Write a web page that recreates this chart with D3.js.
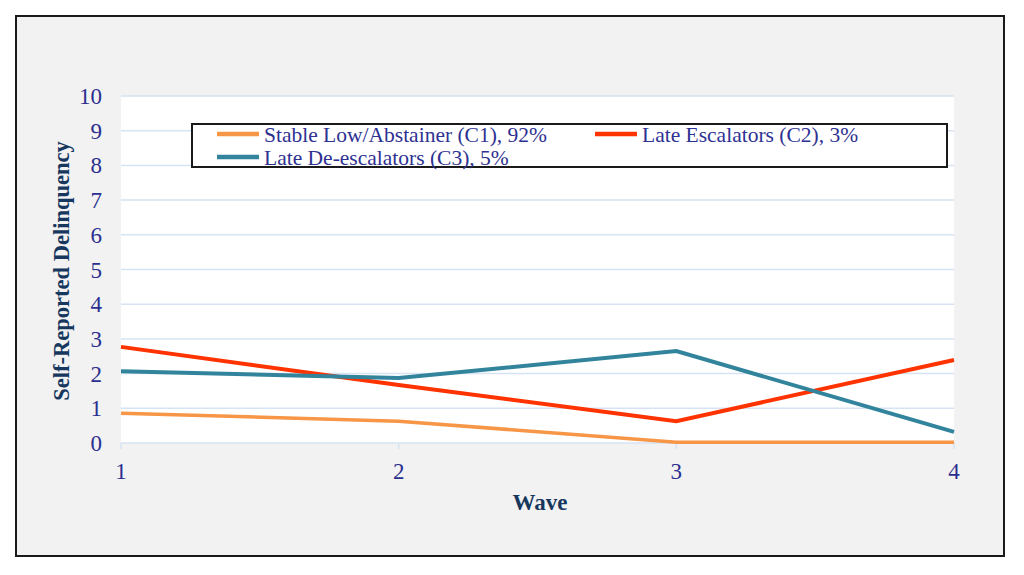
<!DOCTYPE html>
<html>
<head>
<meta charset="utf-8">
<script src="https://cdn.jsdelivr.net/npm/d3@7"></script>
<style>
  body { margin: 0; background: #fff; }
  text { font-family: "Liberation Serif", "Times New Roman", serif; }
</style>
</head>
<body>
<script>
(function(){
    // Chart data
    var waves = [1, 2, 3, 4];
    var yTicks = [0, 1, 2, 3, 4, 5, 6, 7, 8, 9, 10];
    var seriesNames = ["Stable Low/Abstainer (C1), 92%", "Late Escalators (C2), 3%", "Late De-escalators (C3), 5%"];
    var c1Values = [0.86, 0.63, 0.02, 0.02];
    var c2Values = [2.77, 1.67, 0.63, 2.39];
    var c3Values = [2.07, 1.87, 2.65, 0.32];

    var width = 1024, height = 575;
    var left = 121, right = 954, top = 96, bottom = 443;

    var svg = d3.select("body").append("svg")
        .attr("width", width)
        .attr("height", height);

    // outer frame
    svg.append("rect")
        .attr("x", 16).attr("y", 16)
        .attr("width", 988).attr("height", 540)
        .attr("fill", "#f2f2f2")
        .attr("stroke", "#1a1a1a")
        .attr("stroke-width", 2);

    svg.append("rect")
        .attr("x", left).attr("y", top)
        .attr("width", right - left).attr("height", bottom - top)
        .attr("fill", "#fff");

    var x = d3.scaleLinear().domain([1, 4]).range([left, right]);
    var y = d3.scaleLinear().domain([0, 10]).range([bottom, top]);

    // gridlines
    svg.selectAll(".grid")
        .data(yTicks)
        .enter()
        .append("line")
        .attr("class", "grid")
        .attr("x1", left).attr("x2", right)
        .attr("y1", d => y(d)).attr("y2", d => y(d))
        .attr("stroke", "#d6e3f3")
        .attr("stroke-width", 1.5);

    // x tick marks
    svg.selectAll(".xtick")
        .data(waves)
        .enter()
        .append("line")
        .attr("x1", d => x(d)).attr("x2", d => x(d))
        .attr("y1", bottom).attr("y2", bottom + 6)
        .attr("stroke", "#d6e3f3")
        .attr("stroke-width", 1.5);

    // y labels
    svg.selectAll(".ylab")
        .data(yTicks)
        .enter()
        .append("text")
        .attr("x", 102)
        .attr("y", d => y(d) + 8)
        .attr("text-anchor", "end")
        .attr("font-size", 23)
        .attr("fill", "#2b2f8f")
        .text(d => d);

    // x labels
    svg.selectAll(".xlab")
        .data(waves)
        .enter()
        .append("text")
        .attr("x", d => x(d))
        .attr("y", 479)
        .attr("text-anchor", "middle")
        .attr("font-size", 23)
        .attr("fill", "#2b2f8f")
        .text(d => d);

    // axis titles
    svg.append("text")
        .attr("x", 540).attr("y", 510)
        .attr("text-anchor", "middle")
        .attr("font-size", 23)
        .attr("font-weight", "bold")
        .attr("fill", "#17375e")
        .text("Wave");

    svg.append("text")
        .attr("transform", "translate(69,271) rotate(-90)")
        .attr("text-anchor", "middle")
        .attr("font-size", 22.5)
        .attr("font-weight", "bold")
        .attr("fill", "#17375e")
        .text("Self-Reported Delinquency");

    var series = [
        {name: seriesNames[0], values: c1Values, color: "#f79646", w: 3.5},
        {name: seriesNames[1], values: c2Values, color: "#ff3300", w: 4},
        {name: seriesNames[2], values: c3Values, color: "#31849b", w: 4}
    ];

    var line = d3.line()
        .x((d, i) => x(waves[i]))
        .y(d => y(d));

    svg.selectAll(".series")
        .data(series)
        .enter()
        .append("path")
        .attr("d", d => line(d.values))
        .attr("fill", "none")
        .attr("stroke", d => d.color)
        .attr("stroke-width", d => d.w);

    // legend
    var legend = svg.append("g");
    legend.append("rect")
        .attr("x", 192).attr("y", 124)
        .attr("width", 755).attr("height", 43)
        .attr("fill", "#fff")
        .attr("stroke", "#1a1a1a")
        .attr("stroke-width", 2);

    var legendPos = [[217, 134], [595, 134], [217, 157]];
    series.forEach(function(s, i){
        var p = legendPos[i];
        legend.append("line")
            .attr("x1", p[0]).attr("x2", p[0] + 42)
            .attr("y1", p[1]).attr("y2", p[1])
            .attr("stroke", s.color)
            .attr("stroke-width", 4.5);
        legend.append("text")
            .attr("x", p[0] + 47)
            .attr("y", p[1] + 8)
            .attr("font-size", 21.5)
            .attr("fill", "#2e3192")
            .text(s.name);
    });
})();
</script>
</body>
</html>
